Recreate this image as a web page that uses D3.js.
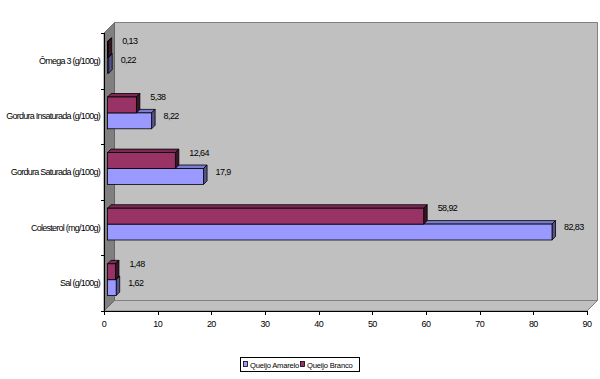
<!DOCTYPE html>
<html>
<head>
<meta charset="utf-8">
<script src="https://cdn.jsdelivr.net/npm/d3@7"></script>
<style>
  body { margin: 0; background: #fff; }
  svg { display: block; font-family: "Liberation Sans", Arial, sans-serif; }
</style>
</head>
<body>
<svg id="chart" width="600" height="379"></svg>
<script>
// Categories in Excel order (first at bottom)
const categories = ["Sal (g/100g)", "Colesterol (mg/100g)", "Gordura Saturada (g/100g)", "Gordura Insaturada (g/100g)", "Ômega 3 (g/100g)"];
const seriesNames = ["Queijo Amarelo", "Queijo Branco"];
const amarelo = [1.62, 82.83, 17.9, 8.22, 0.22];
const branco = [1.48, 58.92, 12.64, 5.38, 0.13];
const xTicks = [0, 10, 20, 30, 40, 50, 60, 70, 80, 90];

const colors = {
  amarelo: { front: "#9999FF", top: "#7B7BD0", side: "#55558A" },
  branco: { front: "#993366", top: "#7A2952", side: "#3A1427" }
};

const svg = d3.select("#chart");
const X0 = 104, X1 = 587, YT = 33, YB = 311;
const D = 10.5;          // wall depth
const bOff = 3.5, bD = 3.5; // bar offset into depth and bar depth

const x = d3.scaleLinear().domain([0, 90]).range([X0, X1]);
const y = d3.scaleBand().domain(categories).range([YB, YT]);
const bw = y.bandwidth() / 3.5;

const poly = pts => pts.map(p => p.join(",")).join(" ");

// Back wall
svg.append("polygon")
  .attr("points", poly([[X0 + D, YT - D], [X1 + D, YT - D], [X1 + D, YB - D], [X0 + D, YB - D]]))
  .attr("fill", "#C0C0C0").attr("stroke", "#808080").attr("stroke-width", 1);
// Bottom floor strip
svg.append("polygon")
  .attr("points", poly([[X0, YB], [X0 + D, YB - D], [X1 + D, YB - D], [X1, YB]]))
  .attr("fill", "#C0C0C0").attr("stroke", "#808080").attr("stroke-width", 1);
// Left wall
svg.append("polygon")
  .attr("points", poly([[X0, YT], [X0 + D, YT - D], [X0 + D, YB - D], [X0, YB]]))
  .attr("fill", "#808080").attr("stroke", "#606060").attr("stroke-width", 0.8);

// Bars
function bar3d(g, v, top, c) {
  const xs = x(0) + bOff, xe = x(v) + bOff;
  const yt = top - bOff, yb = yt + bw;
  g.append("polygon")
    .attr("points", poly([[xs, yt], [xs + bD, yt - bD], [xe + bD, yt - bD], [xe, yt]]))
    .attr("fill", c.top).attr("stroke", "#000").attr("stroke-width", 0.8);
  g.append("polygon")
    .attr("points", poly([[xe, yt], [xe + bD, yt - bD], [xe + bD, yb - bD], [xe, yb]]))
    .attr("fill", c.side).attr("stroke", "#000").attr("stroke-width", 0.8);
  g.append("rect")
    .attr("x", xs).attr("y", yt).attr("width", xe - xs).attr("height", bw)
    .attr("fill", c.front).attr("stroke", "#000").attr("stroke-width", 0.8);
  return { xe: xe, yt: yt };
}

const fmt = v => String(v).replace(".", ",");
const labelStyle = sel => sel.attr("font-size", 9).attr("letter-spacing", "-0.6px").attr("fill", "#000");

const bars = svg.append("g");
categories.forEach((cat, i) => {
  const c = y(cat) + y.bandwidth() / 2;
  const g = bars.append("g");
  const b = bar3d(g, amarelo[i], c, colors.amarelo);
  const r = bar3d(g, branco[i], c - bw, colors.branco);
  labelStyle(svg.append("text"))
    .attr("x", r.xe + 14).attr("y", r.yt + 3).text(fmt(branco[i]));
  labelStyle(svg.append("text"))
    .attr("x", b.xe + 12).attr("y", b.yt + 6).text(fmt(amarelo[i]));
});

// X axis
const xg = svg.append("g");
xg.append("line").attr("x1", X0).attr("x2", X1).attr("y1", YB + 0.5).attr("y2", YB + 0.5)
  .attr("stroke", "#000");
xTicks.forEach(t => {
  xg.append("line").attr("x1", Math.round(x(t)) + 0.5).attr("x2", Math.round(x(t)) + 0.5)
    .attr("y1", YB).attr("y2", YB + 4).attr("stroke", "#000");
  labelStyle(xg.append("text")).attr("x", x(t)).attr("y", YB + 16)
    .attr("text-anchor", "middle").text(t);
});

// Y axis
const yg = svg.append("g");
yg.append("line").attr("x1", X0 + 0.5).attr("x2", X0 + 0.5).attr("y1", YT).attr("y2", YB)
  .attr("stroke", "#000");
const bounds = categories.map(cat => y(cat)).concat([YB]);
bounds.forEach(b => {
  yg.append("line").attr("x1", X0 - 3).attr("x2", X0).attr("y1", Math.round(b) + 0.5).attr("y2", Math.round(b) + 0.5)
    .attr("stroke", "#000");
});
categories.forEach(cat => {
  labelStyle(yg.append("text")).attr("x", 100).attr("y", y(cat) + y.bandwidth() / 2 + 3)
    .attr("text-anchor", "end").attr("letter-spacing", "-0.75px").text(cat);
});

// Legend
const lg = svg.append("g");
lg.append("rect").attr("x", 240.5).attr("y", 357.5).attr("width", 119).attr("height", 14)
  .attr("fill", "#fff").attr("stroke", "#000");
const legendItems = [
  { name: seriesNames[0], c: colors.amarelo.front, x: 243 },
  { name: seriesNames[1], c: colors.branco.front, x: 300 }
];
legendItems.forEach(it => {
  lg.append("rect").attr("x", it.x + 0.5).attr("y", 361.5).attr("width", 4).attr("height", 5)
    .attr("fill", it.c).attr("stroke", "#000").attr("stroke-width", 0.8);
  lg.append("text").attr("x", it.x + 7).attr("y", 367.5).attr("font-size", 7.6)
    .attr("letter-spacing", "-0.2px").text(it.name);
});
</script>
</body>
</html>
